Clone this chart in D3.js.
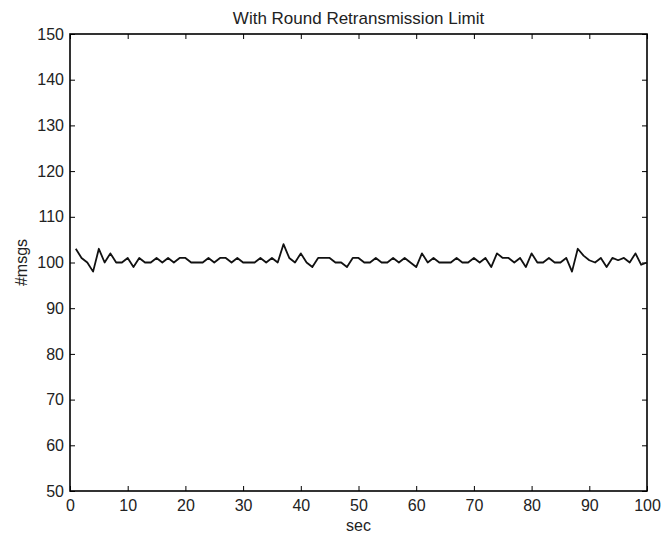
<!DOCTYPE html>
<html>
<head>
<meta charset="utf-8">
<script src="https://cdn.jsdelivr.net/npm/d3@7"></script>
<style>
  body { margin: 0; background: #fff; }
  svg { display: block; }
  text { font-family: "Liberation Sans", Arial, sans-serif; fill: #222; }
</style>
</head>
<body>
<div id="chart"></div>
<script>
"use strict";

// data
var secs = d3.range(1, 101);
var msgs = [
  103, 101, 100, 98, 103, 100, 102, 100, 100, 101,
  99, 101, 100, 100, 101, 100, 101, 100, 101, 101,
  100, 100, 100, 101, 100, 101, 101, 100, 101, 100,
  100, 100, 101, 100, 101, 100, 104, 101, 100, 102,
  100, 99, 101, 101, 101, 100, 100, 99, 101, 101,
  100, 100, 101, 100, 100, 101, 100, 101, 100, 99,
  102, 100, 101, 100, 100, 100, 101, 100, 100, 101,
  100, 101, 99, 102, 101, 101, 100, 101, 99, 102,
  100, 100, 101, 100, 100, 101, 98, 103, 101.5, 100.5,
  100, 101, 99, 101, 100.5, 101, 100, 102, 99.5, 100
];
var xTicks = [0, 10, 20, 30, 40, 50, 60, 70, 80, 90, 100];
var yTicks = [50, 60, 70, 80, 90, 100, 110, 120, 130, 140, 150];

var width = 666, height = 538;
var margin = {top: 34, right: 19, bottom: 47, left: 70};
var w = width - margin.left - margin.right;
var h = height - margin.top - margin.bottom;

var svg = d3.select("#chart").append("svg")
  .attr("width", width)
  .attr("height", height);

var g = svg.append("g")
  .attr("transform", "translate(" + margin.left + "," + margin.top + ")");

var x = d3.scaleLinear().domain([0, 100]).range([0, w]);
var y = d3.scaleLinear().domain([50, 150]).range([h, 0]);

//axes, ticks pointing in like matlab
var tickLen = 5;
function styleAxis(sel) {
  sel.select(".domain").remove();
  sel.selectAll("line").attr("stroke", "#000").attr("stroke-width", 1);
  sel.selectAll("text").style("font-size", "16px").attr("fill", "#222");
}

g.append("g")
  .attr("transform", "translate(0," + h + ")")
  .call(d3.axisBottom(x).tickValues(xTicks).tickSize(-tickLen).tickPadding(4))
  .call(styleAxis)
  .selectAll("text").attr("dy", "1.0em");

g.append("g")
  .call(d3.axisTop(x).tickValues(xTicks).tickSize(-tickLen).tickFormat(""))
  .call(styleAxis);

g.append("g")
  .call(d3.axisLeft(y).tickValues(yTicks).tickSize(-tickLen).tickPadding(6))
  .call(styleAxis);

g.append("g")
  .attr("transform", "translate(" + w + ",0)")
  .call(d3.axisRight(y).tickValues(yTicks).tickSize(-tickLen).tickFormat(""))
  .call(styleAxis);

// box
g.append("rect")
  .attr("width", w)
  .attr("height", h)
  .attr("fill", "none")
  .attr("stroke", "#000")
  .attr("stroke-width", 1.6);

// the line
var line = d3.line()
  .x(function(d, i) { return x(secs[i]); })
  .y(function(d) { return y(d); });

g.append("path")
  .datum(msgs)
  .attr("d", line)
  .attr("fill", "none")
  .attr("stroke", "#111")
  .attr("stroke-width", 1.8)
  .attr("stroke-linejoin", "round");

// labels
svg.append("text")
  .attr("x", margin.left + w / 2)
  .attr("y", 24)
  .attr("text-anchor", "middle")
  .style("font-size", "17px")
  .text("With Round Retransmission Limit");

svg.append("text")
  .attr("x", margin.left + w / 2)
  .attr("y", 531)
  .attr("text-anchor", "middle")
  .style("font-size", "16px")
  .text("sec");

svg.append("text")
  .attr("transform", "translate(27," + (margin.top + h / 2) + ") rotate(-90)")
  .attr("text-anchor", "middle")
  .style("font-size", "16px")
  .text("#msgs");
</script>
</body>
</html>
